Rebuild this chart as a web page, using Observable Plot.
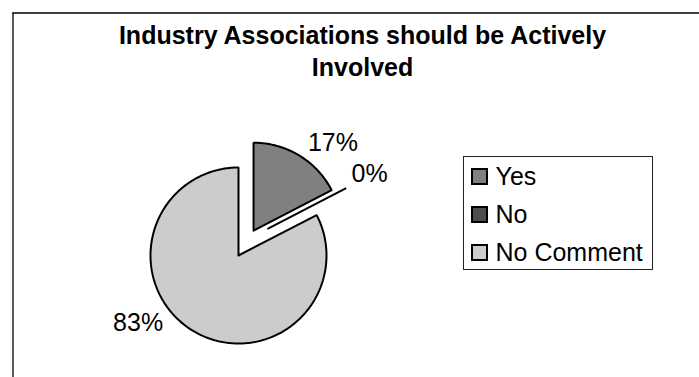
<!DOCTYPE html>
<html>
<head>
<meta charset="utf-8">
<script src="https://cdn.jsdelivr.net/npm/d3@7"></script>
<script src="https://cdn.jsdelivr.net/npm/@observablehq/plot@0.6"></script>
<style>
  html, body { margin: 0; padding: 0; background: #fff; }
  #chart svg { display: block; }
</style>
</head>
<body>
<div id="chart"></div>
<script>
// ---- data ----
const titleLines = ["Industry Associations should be Actively", "Involved"];
const categories = ["Yes", "No", "No Comment"];
const counts = [4, 0, 19];
const palette = ["#808080", "#4d4d4d", "#cccccc"];

// ---- layout constants ----
const W = 699, H = 377;
const FONT = "Liberation Sans, Arial, Helvetica, sans-serif";
const FS = 25;
const pie = {cx: 238, cy: 255, r: 88};
const explode = [29, 40, 0];
const explodeTurn = [0, -15, 0];     // degrees
const labelNudge = [4, 0, 22];       // degrees
const deg = Math.PI / 180;

const total = d3.sum(counts);
const arcs = d3.pie().sort(null).value(d => d)(counts);

const ctx = document.createElement("canvas").getContext("2d");
ctx.font = `${FS}px ${FONT}`;

// slice polygons
const slicePts = [];
const labels = [];
arcs.forEach((a, i) => {
  const mid = (a.startAngle + a.endAngle) / 2;
  const t = mid + explodeTurn[i] * deg;
  const sx = pie.cx + explode[i] * Math.sin(t);
  const sy = pie.cy - explode[i] * Math.cos(t);
  slicePts.push({slice: categories[i], x: sx, y: sy});
  const n = Math.max(1, Math.ceil((a.endAngle - a.startAngle) / deg));
  for (let k = 0; k <= n; k++) {
    const ang = a.startAngle + (a.endAngle - a.startAngle) * k / n;
    slicePts.push({slice: categories[i], x: sx + pie.r * Math.sin(ang), y: sy - pie.r * Math.cos(ang)});
  }
  slicePts.push({slice: categories[i], x: sx, y: sy});

  const text = Math.round(counts[i] / total * 100) + "%";
  const la = mid + labelNudge[i] * deg;
  const dx = Math.sin(la), dy = -Math.cos(la);
  const px = sx + (pie.r + 6) * dx, py = sy + (pie.r + 6) * dy;
  const w = ctx.measureText(text).width, h = 22;
  labels.push({text, x: px + Math.sign(dx) * w / 2, y: py + Math.sign(dy) * h / 2});
});

// legend
const legend = categories.map((c, i) => ({cat: c, y: 176.5 + 38 * i}));

const chart = Plot.plot({
  width: W, height: H,
  margin: 0,
  x: {type: "linear", domain: [0, W], range: [0, W], axis: null},
  y: {type: "linear", domain: [0, H], range: [0, H], axis: null},
  color: {domain: categories, range: palette},
  style: {fontFamily: FONT, background: "#fff"},
  marks: [
    // frame lines
    Plot.ruleX([12.5], {y1: 12.5, y2: H, stroke: "#000", strokeWidth: 1.3}),
    Plot.ruleY([12.5], {x1: 12.5, x2: W, stroke: "#000", strokeWidth: 1.3}),
    // title
    Plot.text(titleLines, {x: 362, y: (d, i) => 43 + 32 * i, text: d => d, fontSize: FS, fontWeight: "bold", lineAnchor: "bottom", fill: "#000"}),
    // pie slices
    Plot.line(slicePts, {x: "x", y: "y", z: "slice", fill: "slice", stroke: "#000", strokeWidth: 2, strokeLinejoin: "miter", curve: "linear"}),
    // labels
    Plot.text(labels, {x: "x", y: "y", text: "text", fontSize: FS, fill: "#000", textAnchor: "middle", lineAnchor: "middle"}),
    // legend box
    Plot.rect([0], {x1: 463.5, x2: 652.5, y1: 156.5, y2: 269.5, fill: "none", stroke: "#222", strokeWidth: 1}),
    Plot.rect(legend, {x1: 472, x2: 487, y1: d => d.y - 7.5, y2: d => d.y + 7.5, fill: "cat", stroke: "#000", strokeWidth: 2}),
    Plot.text(legend, {x: 495, y: "y", text: "cat", fontSize: FS, fill: "#000", textAnchor: "start", lineAnchor: "middle"})
  ]
});
document.getElementById("chart").appendChild(chart);
</script>
</body>
</html>
